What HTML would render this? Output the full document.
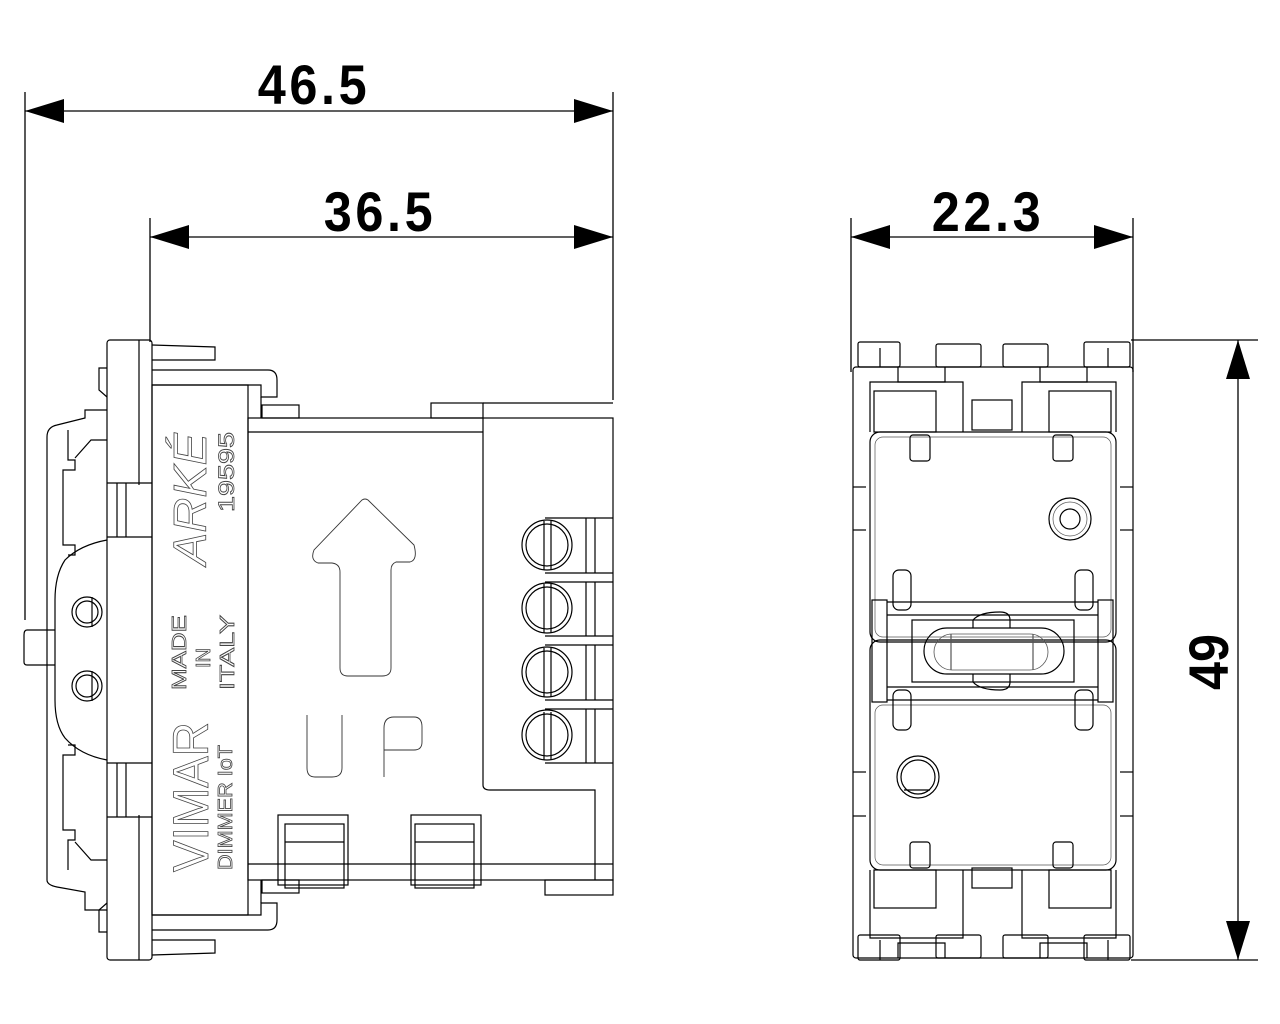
<!DOCTYPE html>
<html><head><meta charset="utf-8"><style>
html,body{margin:0;padding:0;background:#fff;}
svg{display:block}
.d{font-family:"Liberation Sans",sans-serif;font-weight:bold;font-size:56px;fill:#000}
</style></head><body>
<svg width="1280" height="1024" viewBox="0 0 1280 1024" xmlns="http://www.w3.org/2000/svg">
<g stroke="#000" stroke-width="1.3" fill="none">
<line x1="25" y1="92" x2="25" y2="620"/>
<line x1="613" y1="92" x2="613" y2="400"/>
<line x1="150" y1="218" x2="150" y2="342"/>
<line x1="851" y1="218" x2="851" y2="372"/>
<line x1="1133" y1="218" x2="1133" y2="372"/>
<line x1="1131" y1="340" x2="1258" y2="340"/>
<line x1="1131" y1="960" x2="1258" y2="960"/>
<line x1="25" y1="111" x2="613" y2="111"/>
<line x1="150" y1="237" x2="613" y2="237"/>
<line x1="851" y1="237" x2="1133" y2="237"/>
<line x1="1238" y1="340" x2="1238" y2="960"/>
</g>
<g fill="#000">
<polygon points="25,111 64,99 64,123"/><polygon points="613,111 574,99 574,123"/>
<polygon points="150,237 189,225 189,249"/><polygon points="613,237 574,225 574,249"/>
<polygon points="851,237 890,225 890,249"/><polygon points="1133,237 1094,225 1094,249"/>
<polygon points="1238,340 1226,379 1250,379"/><polygon points="1238,960 1226,921 1250,921"/>
</g>
<text class="d" x="314" y="104" text-anchor="middle" transform="translate(314 0) scale(0.9 1) translate(-314 0)" letter-spacing="4">46.5</text>
<text class="d" x="380" y="231" text-anchor="middle" transform="translate(380 0) scale(0.9 1) translate(-380 0)" letter-spacing="4">36.5</text>
<text class="d" x="988" y="231" text-anchor="middle" transform="translate(988 0) scale(0.9 1) translate(-988 0)" letter-spacing="4">22.3</text>
<text class="d" x="0" y="0" text-anchor="middle" transform="translate(1228 662) rotate(-90) scale(0.9 1)">49</text>

<g stroke="#000" stroke-width="1.2" fill="none">
<rect x="107" y="340" width="45" height="620" rx="3"/>
<line x1="139" y1="340" x2="139" y2="485"/>
<line x1="139" y1="815" x2="139" y2="960"/>
<line x1="107" y1="483" x2="152" y2="483"/><line x1="107" y1="537" x2="152" y2="537"/>
<line x1="107" y1="763" x2="152" y2="763"/><line x1="107" y1="817" x2="152" y2="817"/>
<line x1="117" y1="483" x2="117" y2="537"/><line x1="126" y1="483" x2="126" y2="537"/>
<line x1="117" y1="763" x2="117" y2="817"/><line x1="126" y1="763" x2="126" y2="817"/>
<polyline points="107,368 99,368 99,390 107,397"/>
<polyline points="107,932 99,932 99,910 107,903"/>
<polyline points="152,345 215,347 215,360 152,360"/>
<polyline points="152,955 215,953 215,940 152,940"/>
<path d="M152,370 L268,370 Q277,370 277,380 L277,397 L261,397 L261,385 L152,385"/>
<path d="M152,930 L268,930 Q277,930 277,920 L277,903 L261,903 L261,915 L152,915"/>
<rect x="152" y="385" width="96" height="530"/>
<rect x="248" y="418" width="365" height="462"/>
<line x1="248" y1="432" x2="483" y2="432"/>
<line x1="248" y1="864" x2="613" y2="864"/>
<polyline points="261,397 261,418"/><polyline points="261,880 261,903"/>
<rect x="262" y="405" width="37" height="13"/>
<rect x="431" y="403" width="52" height="15"/>
<line x1="483" y1="403" x2="613" y2="403"/>
<line x1="483" y1="418" x2="483" y2="785"/>
<path d="M483,785 Q483,790 490,790 L595,790 L595,880"/>
<rect x="545" y="880" width="68" height="15"/>
<rect x="262" y="880" width="37" height="13"/>
<g>
<circle cx="547" cy="545" r="25"/><circle cx="547" cy="545" r="21"/><line x1="544" y1="521" x2="544" y2="570"/><line x1="551" y1="521" x2="551" y2="570"/><line x1="545" y1="518" x2="613" y2="518"/><line x1="545" y1="573" x2="613" y2="573"/><line x1="586" y1="518" x2="586" y2="573"/><line x1="595" y1="518" x2="595" y2="573"/>
<circle cx="547" cy="608" r="25"/><circle cx="547" cy="608" r="21"/><line x1="544" y1="584" x2="544" y2="633"/><line x1="551" y1="584" x2="551" y2="633"/><line x1="545" y1="582" x2="613" y2="582"/><line x1="545" y1="636" x2="613" y2="636"/><line x1="586" y1="582" x2="586" y2="636"/><line x1="595" y1="582" x2="595" y2="636"/>
<circle cx="547" cy="672" r="25"/><circle cx="547" cy="672" r="21"/><line x1="544" y1="648" x2="544" y2="697"/><line x1="551" y1="648" x2="551" y2="697"/><line x1="545" y1="645" x2="613" y2="645"/><line x1="545" y1="700" x2="613" y2="700"/><line x1="586" y1="645" x2="586" y2="700"/><line x1="595" y1="645" x2="595" y2="700"/>
<circle cx="547" cy="735" r="25"/><circle cx="547" cy="735" r="21"/><line x1="544" y1="712" x2="544" y2="760"/><line x1="551" y1="712" x2="551" y2="760"/><line x1="545" y1="709" x2="613" y2="709"/><line x1="545" y1="763" x2="613" y2="763"/><line x1="586" y1="709" x2="586" y2="763"/><line x1="595" y1="709" x2="595" y2="763"/>
</g>
<rect x="278" y="815" width="70" height="70"/><rect x="285" y="824" width="59" height="64"/><line x1="285" y1="842" x2="344" y2="842"/>
<rect x="411" y="815" width="70" height="70"/><rect x="415" y="824" width="59" height="64"/><line x1="415" y1="842" x2="474" y2="842"/>
<path d="M107,410 L85,410 L85,418 L57,425 Q47,427 47,437 L47,880 Q47,885 57,887 L85,892 L85,910 L107,910"/>
<path d="M68,430 L68,460 L75,460 L75,470 L63,470 L63,545 L75,545 L75,555 L68,555"/>
<path d="M68,870 L68,840 L75,840 L75,830 L63,830 L63,755 L75,755 L75,745 L68,745"/>
<path d="M107,540 Q80,545 65,560 Q55,575 55,600 L55,700 Q55,725 65,738 Q80,755 107,760"/>
<path d="M75,458 L91,440 L107,440"/><path d="M75,842 L91,860 L107,860"/>
<circle cx="87" cy="612" r="15"/><circle cx="87" cy="612" r="11"/><line x1="92" y1="597" x2="92" y2="627"/>
<circle cx="87" cy="686" r="15"/><circle cx="87" cy="686" r="11"/><line x1="92" y1="671" x2="92" y2="701"/>
<path d="M55,630 L27,630 Q24,630 24,635 L24,662 Q24,665 27,665 L55,665"/>
</g>
<g stroke="#333" stroke-width="0.9" fill="none">
<path d="M362,500 Q365,498 368,500 L414,545 Q418,560 410,562 L396,562 Q391,564 391,570 L391,668 Q391,676 382,676 L348,676 Q340,676 340,668 L340,572 Q340,564 332,563 L318,563 Q310,560 314,550 Z"/>
<path d="M307,715 L307,768 Q307,777 315,777 L332,777 Q342,777 342,768 L342,715"/>
<path d="M384,777 L384,728 Q384,717 394,717 L414,717 Q422,717 422,727 L422,742 Q422,750 414,750 L384,750"/>
</g>
<g font-family="'Liberation Sans',sans-serif" fill="none" stroke="#444" stroke-width="0.8">
<text transform="translate(208 872) rotate(-90)" font-size="50" textLength="150" lengthAdjust="spacingAndGlyphs">VIMAR</text>
<text transform="translate(232 870) rotate(-90)" font-size="20" textLength="125" lengthAdjust="spacingAndGlyphs">DIMMER IoT</text>
<text transform="translate(186 690) rotate(-90)" font-size="20" textLength="75" lengthAdjust="spacingAndGlyphs">MADE</text>
<text transform="translate(210 668) rotate(-90)" font-size="20">IN</text>
<text transform="translate(234 690) rotate(-90)" font-size="20" textLength="75" lengthAdjust="spacingAndGlyphs">ITALY</text>
<text transform="translate(206 565) rotate(-90)" font-size="46" font-style="italic" textLength="132" lengthAdjust="spacingAndGlyphs">ARKÉ</text>
<text transform="translate(234 512) rotate(-90)" font-size="22" textLength="80" lengthAdjust="spacingAndGlyphs">19595</text>
</g>

<g stroke="#000" stroke-width="1.2" fill="none">
<rect x="853" y="367" width="280" height="591" rx="3"/>
<rect x="858" y="342" width="42" height="25" rx="2"/><line x1="880" y1="348" x2="880" y2="367"/>
<rect x="936" y="344" width="45" height="23" rx="2"/><rect x="1003" y="344" width="45" height="23" rx="2"/>
<rect x="1084" y="342" width="46" height="25" rx="2"/><line x1="1108" y1="348" x2="1108" y2="367"/>
<rect x="858" y="935" width="42" height="25" rx="2"/><line x1="880" y1="940" x2="880" y2="960"/>
<rect x="936" y="935" width="45" height="23" rx="2"/><rect x="1003" y="935" width="45" height="23" rx="2"/>
<rect x="1084" y="935" width="46" height="25" rx="2"/><line x1="1108" y1="940" x2="1108" y2="960"/>
<path d="M898,367 L898,382 L945,382 L945,367"/><path d="M1040,367 L1040,382 L1087,382 L1087,367"/>
<path d="M898,958 L898,943 L945,943 L945,958"/><path d="M1040,958 L1040,943 L1087,943 L1087,958"/>
<path d="M870,432 L870,382 L963,382 L963,432"/><path d="M1022,432 L1022,382 L1116,382 L1116,432"/>
<rect x="874" y="391" width="62" height="41"/><rect x="1049" y="391" width="62" height="41"/>
<path d="M870,870 L870,938 L963,938 L963,870"/><path d="M1022,870 L1022,938 L1116,938 L1116,870"/>
<rect x="874" y="870" width="62" height="38"/><rect x="1049" y="870" width="62" height="38"/>
<rect x="972" y="400" width="40" height="30"/><rect x="972" y="868" width="40" height="20"/>
<rect x="870" y="432" width="246" height="210" rx="10"/>
<rect x="875" y="437" width="236" height="200" rx="8" stroke="#555" stroke-width="0.7"/>
<rect x="870" y="640" width="246" height="230" rx="10"/>
<rect x="875" y="705" width="236" height="160" rx="8" stroke="#555" stroke-width="0.7"/>
<rect x="910" y="435" width="20" height="26" rx="3"/><rect x="1053" y="435" width="20" height="26" rx="3"/>
<rect x="910" y="842" width="20" height="26" rx="3"/><rect x="1053" y="842" width="20" height="26" rx="3"/>
<rect x="893" y="570" width="18" height="40" rx="6"/><rect x="1075" y="570" width="18" height="40" rx="6"/>
<rect x="893" y="690" width="18" height="40" rx="6"/><rect x="1075" y="690" width="18" height="40" rx="6"/>
<circle cx="1070" cy="519" r="21"/><circle cx="1070" cy="519" r="10"/><circle cx="1070" cy="519" r="17" stroke="#555" stroke-width="0.7"/>
<circle cx="918" cy="777" r="21"/><circle cx="918" cy="777" r="17"/><line x1="904" y1="790" x2="930" y2="790"/>
<line x1="887" y1="602" x2="1098" y2="602"/><line x1="887" y1="700" x2="1098" y2="700"/>
<line x1="887" y1="615" x2="1098" y2="615"/><line x1="887" y1="687" x2="1098" y2="687"/>
<rect x="872" y="600" width="15" height="102"/><rect x="1098" y="600" width="15" height="102"/>
<rect x="912" y="620" width="162" height="62"/>
<rect x="924" y="628" width="140" height="46" rx="23"/>
<rect x="934" y="634" width="114" height="36" rx="18" stroke="#555" stroke-width="0.8"/>
<path d="M973,628 L973,620 Q980,612 1000,612 Q1010,612 1010,620 L1010,628"/>
<path d="M973,674 L973,682 Q980,690 1000,690 Q1010,690 1010,682 L1010,674"/>
<line x1="951" y1="634" x2="951" y2="670" stroke="#555"/><line x1="1033" y1="634" x2="1033" y2="670" stroke="#555"/>
<line x1="853" y1="487" x2="866" y2="487"/><line x1="853" y1="530" x2="866" y2="530"/>
<line x1="853" y1="772" x2="866" y2="772"/><line x1="853" y1="816" x2="866" y2="816"/>
<line x1="1120" y1="487" x2="1133" y2="487"/><line x1="1120" y1="530" x2="1133" y2="530"/>
<line x1="1120" y1="772" x2="1133" y2="772"/><line x1="1120" y1="816" x2="1133" y2="816"/>
</g>
</svg>
</body></html>
